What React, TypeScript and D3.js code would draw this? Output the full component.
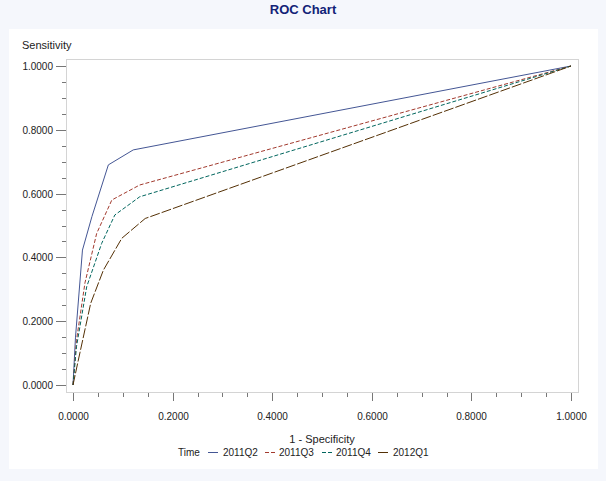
import React from "react";
import * as d3 from "d3";

const seriesNames = ["2011Q2", "2011Q3", "2011Q4", "2012Q1"];
const fpr2011Q2 = [0, 0.005, 0.019, 0.038, 0.071, 0.121, 1];
const tpr2011Q2 = [0, 0.15, 0.423, 0.528, 0.69, 0.737, 1];
const fpr2011Q3 = [0, 0.007, 0.024, 0.0475, 0.078, 0.134, 1];
const tpr2011Q3 = [0, 0.14, 0.32, 0.475, 0.58, 0.627, 1];
const fpr2011Q4 = [0, 0.007, 0.0275, 0.0576, 0.084, 0.134, 1];
const tpr2011Q4 = [0, 0.12, 0.308, 0.444, 0.533, 0.59, 1];
const fpr2012Q1 = [0, 0.0107, 0.0355, 0.061, 0.098, 0.145, 1];
const tpr2012Q1 = [0, 0.078, 0.256, 0.36, 0.46, 0.522, 1];
const majorTicks = [0, 0.2, 0.4, 0.6, 0.8, 1];
const minorTicks = d3.range(0, 1.0001, 0.05);

const colors = ["#445694", "#A23A2E", "#01665E", "#543005"];
const dashes = ["none", "4,2", "4,2", "10,2"];

const font = "'Liberation Sans', Arial, sans-serif";

export default function App() {
  const W = 606, H = 481;
  const frame = { x0: 66, y0: 59, x1: 578, y1: 392 };
  const x = d3.scaleLinear().domain([0, 1]).range([73, 571]);
  const y = d3.scaleLinear().domain([0, 1]).range([385, 66]);
  const line = d3
    .line<[number, number]>()
    .x((d) => x(d[0]))
    .y((d) => y(d[1]));
  const xs = [fpr2011Q2, fpr2011Q3, fpr2011Q4, fpr2012Q1];
  const ys = [tpr2011Q2, tpr2011Q3, tpr2011Q4, tpr2012Q1];
  const series = seriesNames.map((name, i) => ({
    name,
    pts: xs[i].map((v, j) => [v, ys[i][j]] as [number, number]),
  }));
  const fmt = d3.format(".4f");
  const isMajor = (v: number) => majorTicks.some((m) => Math.abs(m - v) < 1e-6);

  const legendItems = [
    { lx: 208, tx: 223 },
    { lx: 265, tx: 279 },
    { lx: 322, tx: 336 },
    { lx: 378, tx: 393 },
  ];

  return (
    <svg
      width={W}
      height={H}
      style={{ position: "absolute", left: 0, top: 0 }}
      fontFamily={font}
    >
      <rect x={0} y={0} width={W} height={H} fill="#f5f7fc" />
      <rect x={9} y={29} width={589} height={440} fill="#ffffff" />
      <text x={303} y={14} textAnchor="middle" fontSize={13} fontWeight="bold" fill="#112277">
        ROC Chart
      </text>
      <text x={22} y={49} fontSize={11} fill="#222">
        Sensitivity
      </text>
      <rect
        x={frame.x0 + 0.5}
        y={frame.y0 + 0.5}
        width={frame.x1 - frame.x0}
        height={frame.y1 - frame.y0}
        fill="#fff"
        stroke="#d4d4d4"
      />
      {minorTicks.map((v, i) => {
        const m = isMajor(v);
        const py = Math.round(y(v)) + 0.5;
        return (
          <g key={"y" + i}>
            <line x1={m ? 56 : 62} x2={frame.x0} y1={py} y2={py} stroke="#777" />
            {m && (
              <text x={53} y={py + 3.5} textAnchor="end" fontSize={10} fill="#222">
                {fmt(v)}
              </text>
            )}
          </g>
        );
      })}
      {minorTicks.map((v, i) => {
        const m = isMajor(v);
        const px = Math.round(x(v)) + 0.5;
        return (
          <g key={"x" + i}>
            <line x1={px} x2={px} y1={frame.y1 + 1} y2={frame.y1 + (m ? 9 : 5)} stroke="#777" />
            {m && (
              <text x={px} y={420} textAnchor="middle" fontSize={10} fill="#222">
                {fmt(v)}
              </text>
            )}
          </g>
        );
      })}
      <text x={322} y={443} textAnchor="middle" fontSize={11} fill="#222">
        1 - Specificity
      </text>
      {series.map((s, i) => (
        <path
          key={s.name}
          d={line(s.pts) || ""}
          fill="none"
          stroke={colors[i]}
          strokeWidth={1}
          strokeDasharray={dashes[i]}
        />
      ))}
      <text x={178} y={456} fontSize={10} fill="#222">
        Time
      </text>
      {series.map((s, i) => (
        <g key={"lg" + s.name}>
          <line
            x1={legendItems[i].lx}
            x2={legendItems[i].lx + 10}
            y1={452.5}
            y2={452.5}
            stroke={colors[i]}
            strokeDasharray={dashes[i]}
          />
          <text x={legendItems[i].tx} y={456} fontSize={10} fill="#222">
            {s.name}
          </text>
        </g>
      ))}
    </svg>
  );
}
